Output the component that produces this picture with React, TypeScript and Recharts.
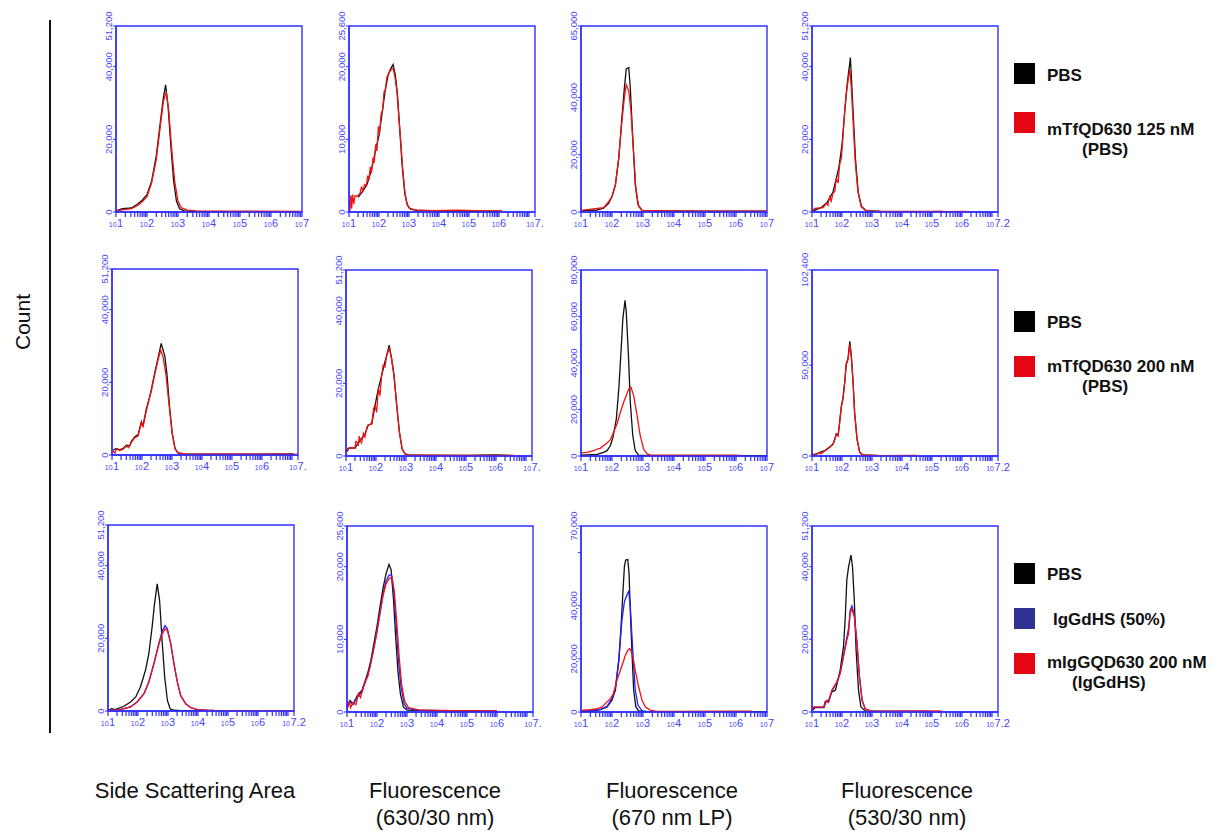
import { LineChart, Line, XAxis, YAxis, ReferenceArea } from 'recharts'

type Pt = [number, number] // [log10 intensity, count]

const AXIS_BLUE = '#2f2fff'
const LABEL_BLUE = '#4646ff'
const BLACK = '#111111'
const RED = '#f21212'
const BLUE = '#2020ff'
const FONT = '"Liberation Sans", Arial, sans-serif'

// x axis: decades of 10^n and log minor steps
const DECADES = [1, 2, 3, 4, 5, 6, 7]
const MINOR_STEPS = [2, 3, 4, 5, 6, 7, 8, 9]

// y tick sets
const Y_51200 = [0, 20000, 40000, 51200]
const Y_25600 = [0, 10000, 20000, 25600]
const Y_65000 = [0, 20000, 40000, 65000]
const Y_80000 = [0, 20000, 40000, 60000, 80000]
const Y_102400 = [0, 50000, 102400]
const Y_70000 = [0, 20000, 40000, 60000, 70000]

// ---- row 1: mTfQD630 125 nM (PBS)
const ssc125Pbs: Pt[] = [[1.0,300],[1.2,900],[1.5,1100],[1.7,2200],[1.85,3300],[2.0,4800],[2.15,8500],[2.3,15500],[2.42,24000],[2.52,31000],[2.6,35000],[2.68,29000],[2.78,17000],[2.86,8500],[2.95,3000],[3.05,900],[3.2,300],[3.5,150],[4.5,100],[6.9,100]]
const ssc125Qd: Pt[] = [[1.0,200],[1.2,600],[1.5,900],[1.7,1800],[1.85,2800],[2.0,4200],[2.15,8000],[2.3,14500],[2.42,23000],[2.53,30500],[2.62,33000],[2.7,28000],[2.8,17000],[2.9,8000],[3.0,3000],[3.1,1200],[3.3,500],[3.6,300],[4.5,250],[5.5,200],[7.0,150]]

const f630_125Pbs: Pt[] = [[1.3,2000],[1.45,2800],[1.6,3800],[1.75,5800],[1.9,8800],[2.0,10500],[2.1,13500],[2.2,16500],[2.3,18800],[2.4,19800],[2.47,20300],[2.55,18700],[2.62,16000],[2.69,11500],[2.77,6500],[2.86,2500],[2.95,900],[3.05,400],[3.3,200],[4.0,150],[4.7,100],[6.0,100]]
const f630_125Qd: Pt[] = [[1.0,1100],[1.03,0],[1.06,2300],[1.09,500],[1.12,2400],[1.16,1100],[1.2,2200],[1.28,2200],[1.36,2500],[1.42,3500],[1.46,2800],[1.52,3800],[1.58,3600],[1.62,5000],[1.66,4400],[1.71,6200],[1.75,5400],[1.8,7500],[1.84,6800],[1.89,9300],[1.93,8400],[1.98,11800],[2.02,10800],[2.07,13500],[2.12,14000],[2.17,16600],[2.21,16800],[2.26,18500],[2.33,19200],[2.41,19600],[2.47,19800],[2.54,18400],[2.6,16500],[2.66,13000],[2.72,10000],[2.78,6500],[2.85,3200],[2.92,1300],[3.0,550],[3.2,300],[3.8,200],[4.6,250],[5.5,150],[6.1,200]]

const f670_125Pbs: Pt[] = [[1.0,400],[1.52,700],[1.73,1300],[1.89,3000],[2.0,5400],[2.11,9500],[2.22,19000],[2.32,33000],[2.4,43500],[2.46,50000],[2.54,50500],[2.59,43500],[2.67,26000],[2.75,9500],[2.84,2500],[2.97,600],[3.24,400],[3.67,350],[5.0,300],[7.0,300]]
const f670_125Qd: Pt[] = [[1.0,600],[1.73,1500],[1.89,3600],[2.0,5400],[2.11,9500],[2.22,19000],[2.32,31800],[2.4,40000],[2.46,44500],[2.54,42300],[2.61,35300],[2.7,20000],[2.77,8300],[2.86,1900],[2.97,600],[3.67,400],[5.0,300],[7.0,300]]

const f530_125Pbs: Pt[] = [[1.0,200],[1.3,1200],[1.5,2600],[1.6,4000],[1.7,5500],[1.8,8800],[1.9,12500],[2.0,18500],[2.1,28500],[2.17,35000],[2.22,38500],[2.26,41000],[2.28,42500],[2.32,36000],[2.38,26000],[2.45,14500],[2.54,5500],[2.65,1500],[2.8,400],[3.3,150],[5.0,100]]
const f530_125Qd: Pt[] = [[1.0,100],[1.09,1000],[1.37,1200],[1.48,2400],[1.53,1800],[1.59,4200],[1.64,3000],[1.7,5200],[1.76,5600],[1.81,9300],[1.87,8000],[1.92,13000],[1.98,14800],[2.03,20400],[2.09,27800],[2.14,32400],[2.2,36000],[2.26,39300],[2.31,34200],[2.37,25000],[2.44,14000],[2.53,5600],[2.64,1500],[2.81,300],[3.26,150],[5.0,150],[5.31,250],[5.4,100],[6.0,150],[6.3,100]]

// ---- row 2: mTfQD630 200 nM (PBS)
const ssc200Pbs: Pt[] = [[1.03,1300],[1.14,1800],[1.26,1400],[1.37,1800],[1.48,2700],[1.59,2500],[1.64,3700],[1.76,5000],[1.87,5600],[1.98,9200],[2.03,7900],[2.14,12500],[2.26,16200],[2.31,18000],[2.42,22500],[2.53,26500],[2.64,30700],[2.76,27200],[2.83,22400],[2.92,13200],[3.01,5900],[3.1,1700],[3.2,550],[3.48,200],[5.0,200],[7.0,300],[7.1,100]]
const ssc200Qd: Pt[] = [[1.03,1100],[1.1,500],[1.14,1700],[1.26,1200],[1.37,1600],[1.48,2500],[1.55,2000],[1.64,3400],[1.76,4800],[1.87,5200],[1.98,9000],[2.03,7600],[2.14,12000],[2.26,16000],[2.31,17500],[2.42,22000],[2.53,26000],[2.62,28900],[2.7,27000],[2.8,22000],[2.9,14000],[3.0,6200],[3.1,1900],[3.2,600],[3.5,250],[5.0,200],[6.6,200],[7.2,150]]

const f630_200Pbs: Pt[] = [[1.02,1100],[1.11,2200],[1.3,2200],[1.47,4300],[1.63,6000],[1.74,8500],[1.86,8900],[1.97,14000],[2.08,18600],[2.19,22200],[2.3,26000],[2.36,27800],[2.44,30500],[2.52,26800],[2.6,22200],[2.69,14000],[2.78,6600],[2.87,2000],[2.97,550],[3.13,200],[5.0,150],[6.0,300],[6.5,150]]
const f630_200Qd: Pt[] = [[1.0,0],[1.02,1100],[1.04,2000],[1.11,2200],[1.3,2200],[1.33,4000],[1.36,3900],[1.41,2800],[1.44,5500],[1.47,4300],[1.52,3600],[1.58,6200],[1.63,5200],[1.7,8000],[1.74,8500],[1.86,8900],[1.92,13000],[1.97,14000],[2.02,12000],[2.08,18600],[2.13,16600],[2.19,22200],[2.24,25000],[2.3,24500],[2.36,27800],[2.44,29600],[2.52,26800],[2.6,22200],[2.69,14000],[2.78,6600],[2.87,2000],[2.97,550],[3.13,200],[5.0,150],[6.6,150]]

const f670_200Pbs: Pt[] = [[1.0,400],[1.52,700],[1.73,1600],[1.84,2300],[1.95,4500],[2.03,8000],[2.08,11600],[2.14,16000],[2.22,28900],[2.29,44700],[2.35,59100],[2.42,67000],[2.46,62000],[2.53,43300],[2.59,23200],[2.67,8800],[2.75,2300],[2.86,400],[3.13,200],[7.0,200]]
const f670_200Qd: Pt[] = [[1.0,1300],[1.19,1600],[1.41,2300],[1.52,3000],[1.62,3300],[1.73,4500],[1.84,5600],[1.95,7000],[2.05,10200],[2.16,13800],[2.27,18800],[2.38,23200],[2.46,26000],[2.54,28900],[2.61,29600],[2.7,26000],[2.81,17400],[2.91,8800],[3.02,3000],[3.13,900],[3.24,400],[3.99,400],[5.92,400],[6.14,300]]

const f530_200Pbs: Pt[] = [[1.0,550],[1.14,1100],[1.26,2000],[1.42,2900],[1.53,4200],[1.64,5700],[1.7,6600],[1.76,9400],[1.81,12200],[1.87,11500],[1.92,18600],[1.98,27800],[2.03,31500],[2.09,40700],[2.14,50800],[2.2,53600],[2.26,63200],[2.31,55400],[2.37,40700],[2.42,24100],[2.5,9400],[2.59,2000],[2.7,550],[3.26,200],[4.48,200]]
const f530_200Qd: Pt[] = [[1.0,300],[1.14,900],[1.26,1800],[1.3,1200],[1.42,2700],[1.53,4000],[1.64,5500],[1.7,6400],[1.76,9000],[1.81,12000],[1.87,11000],[1.92,18000],[1.98,27000],[2.03,31000],[2.09,40000],[2.14,50000],[2.2,53000],[2.26,61300],[2.31,54500],[2.37,40000],[2.42,24000],[2.5,9400],[2.59,2000],[2.7,550],[3.26,200],[4.48,300]]

// ---- row 3: IgGdHS (50%) and mIgGQD630 200 nM (IgGdHS)
const sscIgPbs: Pt[] = [[1.02,200],[1.13,700],[1.2,400],[1.3,600],[1.53,1300],[1.75,2500],[1.92,3800],[2.08,6600],[2.25,11200],[2.36,15700],[2.47,23100],[2.55,29500],[2.64,35000],[2.72,30400],[2.81,18500],[2.89,9300],[2.98,2900],[3.07,600],[3.2,200],[3.42,100],[5.5,100],[7.2,100]]
const sscIgHs: Pt[] = [[1.02,100],[1.41,400],[1.75,1100],[1.97,2500],[2.2,4800],[2.36,8000],[2.53,13000],[2.7,18800],[2.81,22000],[2.9,23500],[2.98,22600],[3.09,18700],[3.2,13000],[3.31,8000],[3.42,4300],[3.59,2000],[3.76,900],[3.98,400],[4.32,200],[4.54,150],[7.2,100]]
const sscIgQd: Pt[] = [[1.02,100],[1.41,400],[1.75,1100],[1.97,2500],[2.2,4800],[2.36,8000],[2.53,13000],[2.7,18500],[2.81,21200],[2.9,22600],[2.98,22200],[3.09,18500],[3.2,13000],[3.31,8000],[3.42,4300],[3.59,2000],[3.76,900],[3.98,400],[4.32,200],[4.54,150],[7.2,100]]

const f630IgPbs: Pt[] = [[1.0,800],[1.1,1600],[1.2,1100],[1.35,2300],[1.5,3000],[1.6,4200],[1.7,5500],[1.8,7200],[1.9,9500],[2.0,11800],[2.1,14500],[2.2,17000],[2.3,19000],[2.4,20300],[2.47,19600],[2.55,15500],[2.62,10500],[2.7,5500],[2.78,2500],[2.88,700],[3.0,250],[4.0,150],[6.0,100]]
const f630IgHs: Pt[] = [[1.0,500],[1.1,1400],[1.2,1000],[1.35,2100],[1.5,2800],[1.6,4000],[1.7,5200],[1.8,7000],[1.9,9000],[2.0,11300],[2.1,13800],[2.2,16200],[2.3,18000],[2.4,18800],[2.48,18900],[2.56,16500],[2.64,12000],[2.72,7000],[2.8,3500],[2.9,1200],[3.0,500],[3.3,250],[4.0,200],[6.0,100]]
const f630IgQd: Pt[] = [[1.0,300],[1.08,1500],[1.12,600],[1.2,1300],[1.3,1000],[1.38,2500],[1.45,2000],[1.55,3500],[1.62,4300],[1.7,5000],[1.8,6800],[1.9,8800],[2.0,11000],[2.1,13500],[2.2,16000],[2.3,17600],[2.4,18300],[2.5,18600],[2.58,16500],[2.66,12300],[2.74,7500],[2.82,3800],[2.92,1500],[3.05,600],[3.4,300],[4.5,200],[6.0,150]]

const f670IgPbs: Pt[] = [[1.0,250],[1.3,350],[1.62,900],[1.84,1900],[2.0,4400],[2.11,8200],[2.22,19500],[2.29,32000],[2.35,44600],[2.4,54700],[2.44,57200],[2.51,57400],[2.55,52100],[2.59,38300],[2.65,20700],[2.7,8200],[2.77,1900],[2.86,400],[3.13,150],[7.0,150]]
const f670IgHs: Pt[] = [[1.0,300],[1.62,900],[1.84,2100],[2.0,5000],[2.11,9400],[2.22,19500],[2.32,34600],[2.4,41500],[2.46,43400],[2.54,45600],[2.59,39600],[2.67,23200],[2.75,8200],[2.84,2500],[2.97,400],[3.13,150],[5.0,150]]
const f670IgQd: Pt[] = [[1.0,600],[1.3,900],[1.52,1300],[1.68,1900],[1.84,3800],[1.95,5000],[2.05,6900],[2.16,11900],[2.27,15700],[2.38,19500],[2.43,21400],[2.51,23200],[2.57,23900],[2.65,22000],[2.75,15700],[2.86,9400],[2.97,4400],[3.08,1900],[3.24,600],[3.45,250],[3.99,250],[5.92,300],[6.52,300]]

const f530IgPbs: Pt[] = [[1.0,300],[1.11,1200],[1.39,1200],[1.44,2800],[1.55,3200],[1.66,5500],[1.78,6000],[1.89,9700],[1.94,11500],[2.0,15200],[2.05,17900],[2.11,26200],[2.16,36300],[2.22,40000],[2.3,43200],[2.35,40000],[2.41,30800],[2.47,17000],[2.55,6000],[2.63,1400],[2.77,300],[3.05,150],[5.0,100]]
const f530IgHs: Pt[] = [[1.0,300],[1.06,1300],[1.4,1300],[1.48,3000],[1.55,2600],[1.66,5800],[1.83,8200],[1.94,10800],[2.05,15500],[2.16,20500],[2.22,23000],[2.27,27800],[2.33,29200],[2.41,26800],[2.5,19200],[2.58,10000],[2.67,3300],[2.77,900],[2.94,300],[4.16,200],[4.9,250],[5.0,100]]
const f530IgQd: Pt[] = [[1.0,400],[1.06,1400],[1.39,1400],[1.48,3200],[1.55,2700],[1.66,6000],[1.83,8300],[1.94,10600],[2.05,15200],[2.16,19800],[2.22,21600],[2.27,27100],[2.33,28500],[2.41,26200],[2.5,18800],[2.58,9700],[2.67,3200],[2.77,900],[2.94,300],[4.16,200],[5.26,300],[5.35,100]]

interface Series { data: Pt[]; color: string }
interface PanelCfg {
  left: number
  top: number
  xMax: number
  endLabel: string
  yMax: number
  yTicks: number[]
  hideY?: number[]
  series: Series[]
}

const PANELS: PanelCfg[] = [
  { left: 116, top: 26, xMax: 7, endLabel: '7', yMax: 51200, yTicks: Y_51200, series: [{ data: ssc125Pbs, color: BLACK }, { data: ssc125Qd, color: RED }] },
  { left: 349, top: 26, xMax: 7.2, endLabel: '7.', yMax: 25600, yTicks: Y_25600, series: [{ data: f630_125Pbs, color: BLACK }, { data: f630_125Qd, color: RED }] },
  { left: 581, top: 26, xMax: 7, endLabel: '7', yMax: 65000, yTicks: Y_65000, series: [{ data: f670_125Pbs, color: BLACK }, { data: f670_125Qd, color: RED }] },
  { left: 812, top: 26, xMax: 7.2, endLabel: '7.2', yMax: 51200, yTicks: Y_51200, series: [{ data: f530_125Pbs, color: BLACK }, { data: f530_125Qd, color: RED }] },

  { left: 112, top: 269, xMax: 7.2, endLabel: '7.', yMax: 51200, yTicks: Y_51200, series: [{ data: ssc200Pbs, color: BLACK }, { data: ssc200Qd, color: RED }] },
  { left: 346, top: 270, xMax: 7.2, endLabel: '7.', yMax: 51200, yTicks: Y_51200, series: [{ data: f630_200Pbs, color: BLACK }, { data: f630_200Qd, color: RED }] },
  { left: 581, top: 270, xMax: 7, endLabel: '7', yMax: 80000, yTicks: Y_80000, series: [{ data: f670_200Pbs, color: BLACK }, { data: f670_200Qd, color: RED }] },
  { left: 812, top: 270, xMax: 7.2, endLabel: '7.2', yMax: 102400, yTicks: Y_102400, series: [{ data: f530_200Pbs, color: BLACK }, { data: f530_200Qd, color: RED }] },

  { left: 108, top: 525, xMax: 7.2, endLabel: '7.2', yMax: 51200, yTicks: Y_51200, series: [{ data: sscIgPbs, color: BLACK }, { data: sscIgHs, color: BLUE }, { data: sscIgQd, color: RED }] },
  { left: 347, top: 526, xMax: 7.2, endLabel: '7.', yMax: 25600, yTicks: Y_25600, series: [{ data: f630IgPbs, color: BLACK }, { data: f630IgHs, color: BLUE }, { data: f630IgQd, color: RED }] },
  { left: 581, top: 526, xMax: 7, endLabel: '7', yMax: 70000, yTicks: Y_70000, hideY: [60000], series: [{ data: f670IgPbs, color: BLACK }, { data: f670IgHs, color: BLUE }, { data: f670IgQd, color: RED }] },
  { left: 812, top: 526, xMax: 7.2, endLabel: '7.2', yMax: 51200, yTicks: Y_51200, series: [{ data: f530IgPbs, color: BLACK }, { data: f530IgHs, color: BLUE }, { data: f530IgQd, color: RED }] },
]

const BOX = 186
const PAD_L = 40
const PAD_T = 20
const PAD_R = 16
const PAD_B = 26

function xTicks(xMax: number) {
  const out: number[] = []
  DECADES.forEach((d) => {
    if (d <= xMax) out.push(d)
    MINOR_STEPS.forEach((m) => {
      const v = d + Math.log10(m)
      if (v < xMax) out.push(v)
    })
  })
  if (!DECADES.includes(xMax)) out.push(xMax)
  return out
}

function XTick(props: any) {
  const { x, y, payload, xMax, endLabel } = props
  const v = payload.value
  let exp = ''
  if (Math.abs(v - xMax) < 1e-6) exp = endLabel
  else if (Number.isInteger(v) && v <= xMax - 0.5) exp = String(v)
  if (!exp) return <g />
  return (
    <text x={x} y={y + 8} textAnchor="middle" fill={LABEL_BLUE} fontFamily={FONT}>
      <tspan fontSize={7}>10</tspan>
      <tspan fontSize={11} dx={0.5}>{exp}</tspan>
    </text>
  )
}

function YTick(props: any) {
  const { x, y, payload, hide } = props
  if (hide && hide.includes(payload.value)) return <g />
  return (
    <text x={x} y={y} transform={`rotate(-90 ${x} ${y})`} textAnchor="middle"
      fontSize={9.5} fill={LABEL_BLUE} fontFamily={FONT}>
      {Number(payload.value).toLocaleString('en-US')}
    </text>
  )
}

function Panel({ p }: { p: PanelCfg }) {
  return (
    <div style={{ position: 'absolute', left: p.left - PAD_L, top: p.top - PAD_T }}>
      <LineChart width={PAD_L + BOX + PAD_R} height={PAD_T + BOX + PAD_B}
        margin={{ top: PAD_T, right: PAD_R, bottom: 0, left: 0 }}>
        <XAxis type="number" dataKey="x" domain={[1, p.xMax]} ticks={xTicks(p.xMax)} interval={0}
          allowDataOverflow height={PAD_B} tickSize={5} tickMargin={2}
          axisLine={{ stroke: AXIS_BLUE, strokeWidth: 1.4 }} tickLine={{ stroke: AXIS_BLUE, strokeWidth: 1.2 }}
          tick={(t: any) => <XTick {...t} xMax={p.xMax} endLabel={p.endLabel} />} />
        <YAxis type="number" dataKey="y" domain={[0, p.yMax]} ticks={p.yTicks} interval={0}
          allowDataOverflow width={PAD_L} tickSize={3} tickMargin={1}
          axisLine={{ stroke: AXIS_BLUE, strokeWidth: 1.4 }} tickLine={{ stroke: AXIS_BLUE }}
          tick={(t: any) => <YTick {...t} hide={p.hideY} />} />
        <ReferenceArea x1={1} x2={p.xMax} y1={0} y2={p.yMax} fill="none" fillOpacity={0}
          stroke={AXIS_BLUE} strokeWidth={1.4} ifOverflow="visible" />
        {p.series.map((s, i) => (
          <Line key={i} data={s.data.map(([x, y]) => ({ x, y }))} dataKey="y" type="linear"
            stroke={s.color} strokeWidth={1.3} dot={false} activeDot={false} isAnimationActive={false} />
        ))}
      </LineChart>
    </div>
  )
}

const LEGEND_TEXT = { fontFamily: FONT, fontWeight: 700, fontSize: 17, fill: '#111' }
const TITLE_TEXT = { fontFamily: FONT, fontSize: 22, fill: '#111' }

export default function App() {
  return (
    <div style={{ position: 'absolute', left: 0, top: 0, width: 1215, height: 832, background: '#fff' }}>
      <svg width={1215} height={832} style={{ position: 'absolute', left: 0, top: 0 }}>
        <text x={30} y={322} transform="rotate(-90 30 322)" textAnchor="middle" {...TITLE_TEXT} fontSize={21}>Count</text>
        <line x1={50} y1={20} x2={50} y2={733} stroke="#111" strokeWidth={2} />

        <rect x={1014} y={63} width={21} height={21} fill="#000" />
        <text x={1047} y={81} {...LEGEND_TEXT}>PBS</text>
        <rect x={1014} y={112} width={21} height={21} fill="#e30613" />
        <text x={1047} y={135} {...LEGEND_TEXT}>mTfQD630 125 nM</text>
        <text x={1082} y={155} {...LEGEND_TEXT}>(PBS)</text>

        <rect x={1014} y={311} width={21} height={21} fill="#000" />
        <text x={1047} y={328} {...LEGEND_TEXT}>PBS</text>
        <rect x={1014} y={356} width={21} height={21} fill="#e30613" />
        <text x={1047} y={372} {...LEGEND_TEXT}>mTfQD630 200 nM</text>
        <text x={1082} y={392} {...LEGEND_TEXT}>(PBS)</text>

        <rect x={1014} y={563} width={21} height={21} fill="#000" />
        <text x={1047} y={580} {...LEGEND_TEXT}>PBS</text>
        <rect x={1014} y={608} width={21} height={21} fill="#2e3192" />
        <text x={1053} y={625} {...LEGEND_TEXT}>IgGdHS (50%)</text>
        <rect x={1014} y={653} width={21} height={21} fill="#e30613" />
        <text x={1047} y={668} {...LEGEND_TEXT}>mIgGQD630 200 nM</text>
        <text x={1072} y={688} {...LEGEND_TEXT}>(IgGdHS)</text>

        <text x={195} y={798} textAnchor="middle" {...TITLE_TEXT}>Side Scattering Area</text>
        <text x={435} y={798} textAnchor="middle" {...TITLE_TEXT}>Fluorescence</text>
        <text x={435} y={825} textAnchor="middle" {...TITLE_TEXT}>(630/30 nm)</text>
        <text x={672} y={798} textAnchor="middle" {...TITLE_TEXT}>Fluorescence</text>
        <text x={672} y={825} textAnchor="middle" {...TITLE_TEXT}>(670 nm LP)</text>
        <text x={907} y={798} textAnchor="middle" {...TITLE_TEXT}>Fluorescence</text>
        <text x={907} y={825} textAnchor="middle" {...TITLE_TEXT}>(530/30 nm)</text>
      </svg>
      {PANELS.map((p, i) => <Panel key={i} p={p} />)}
    </div>
  )
}
